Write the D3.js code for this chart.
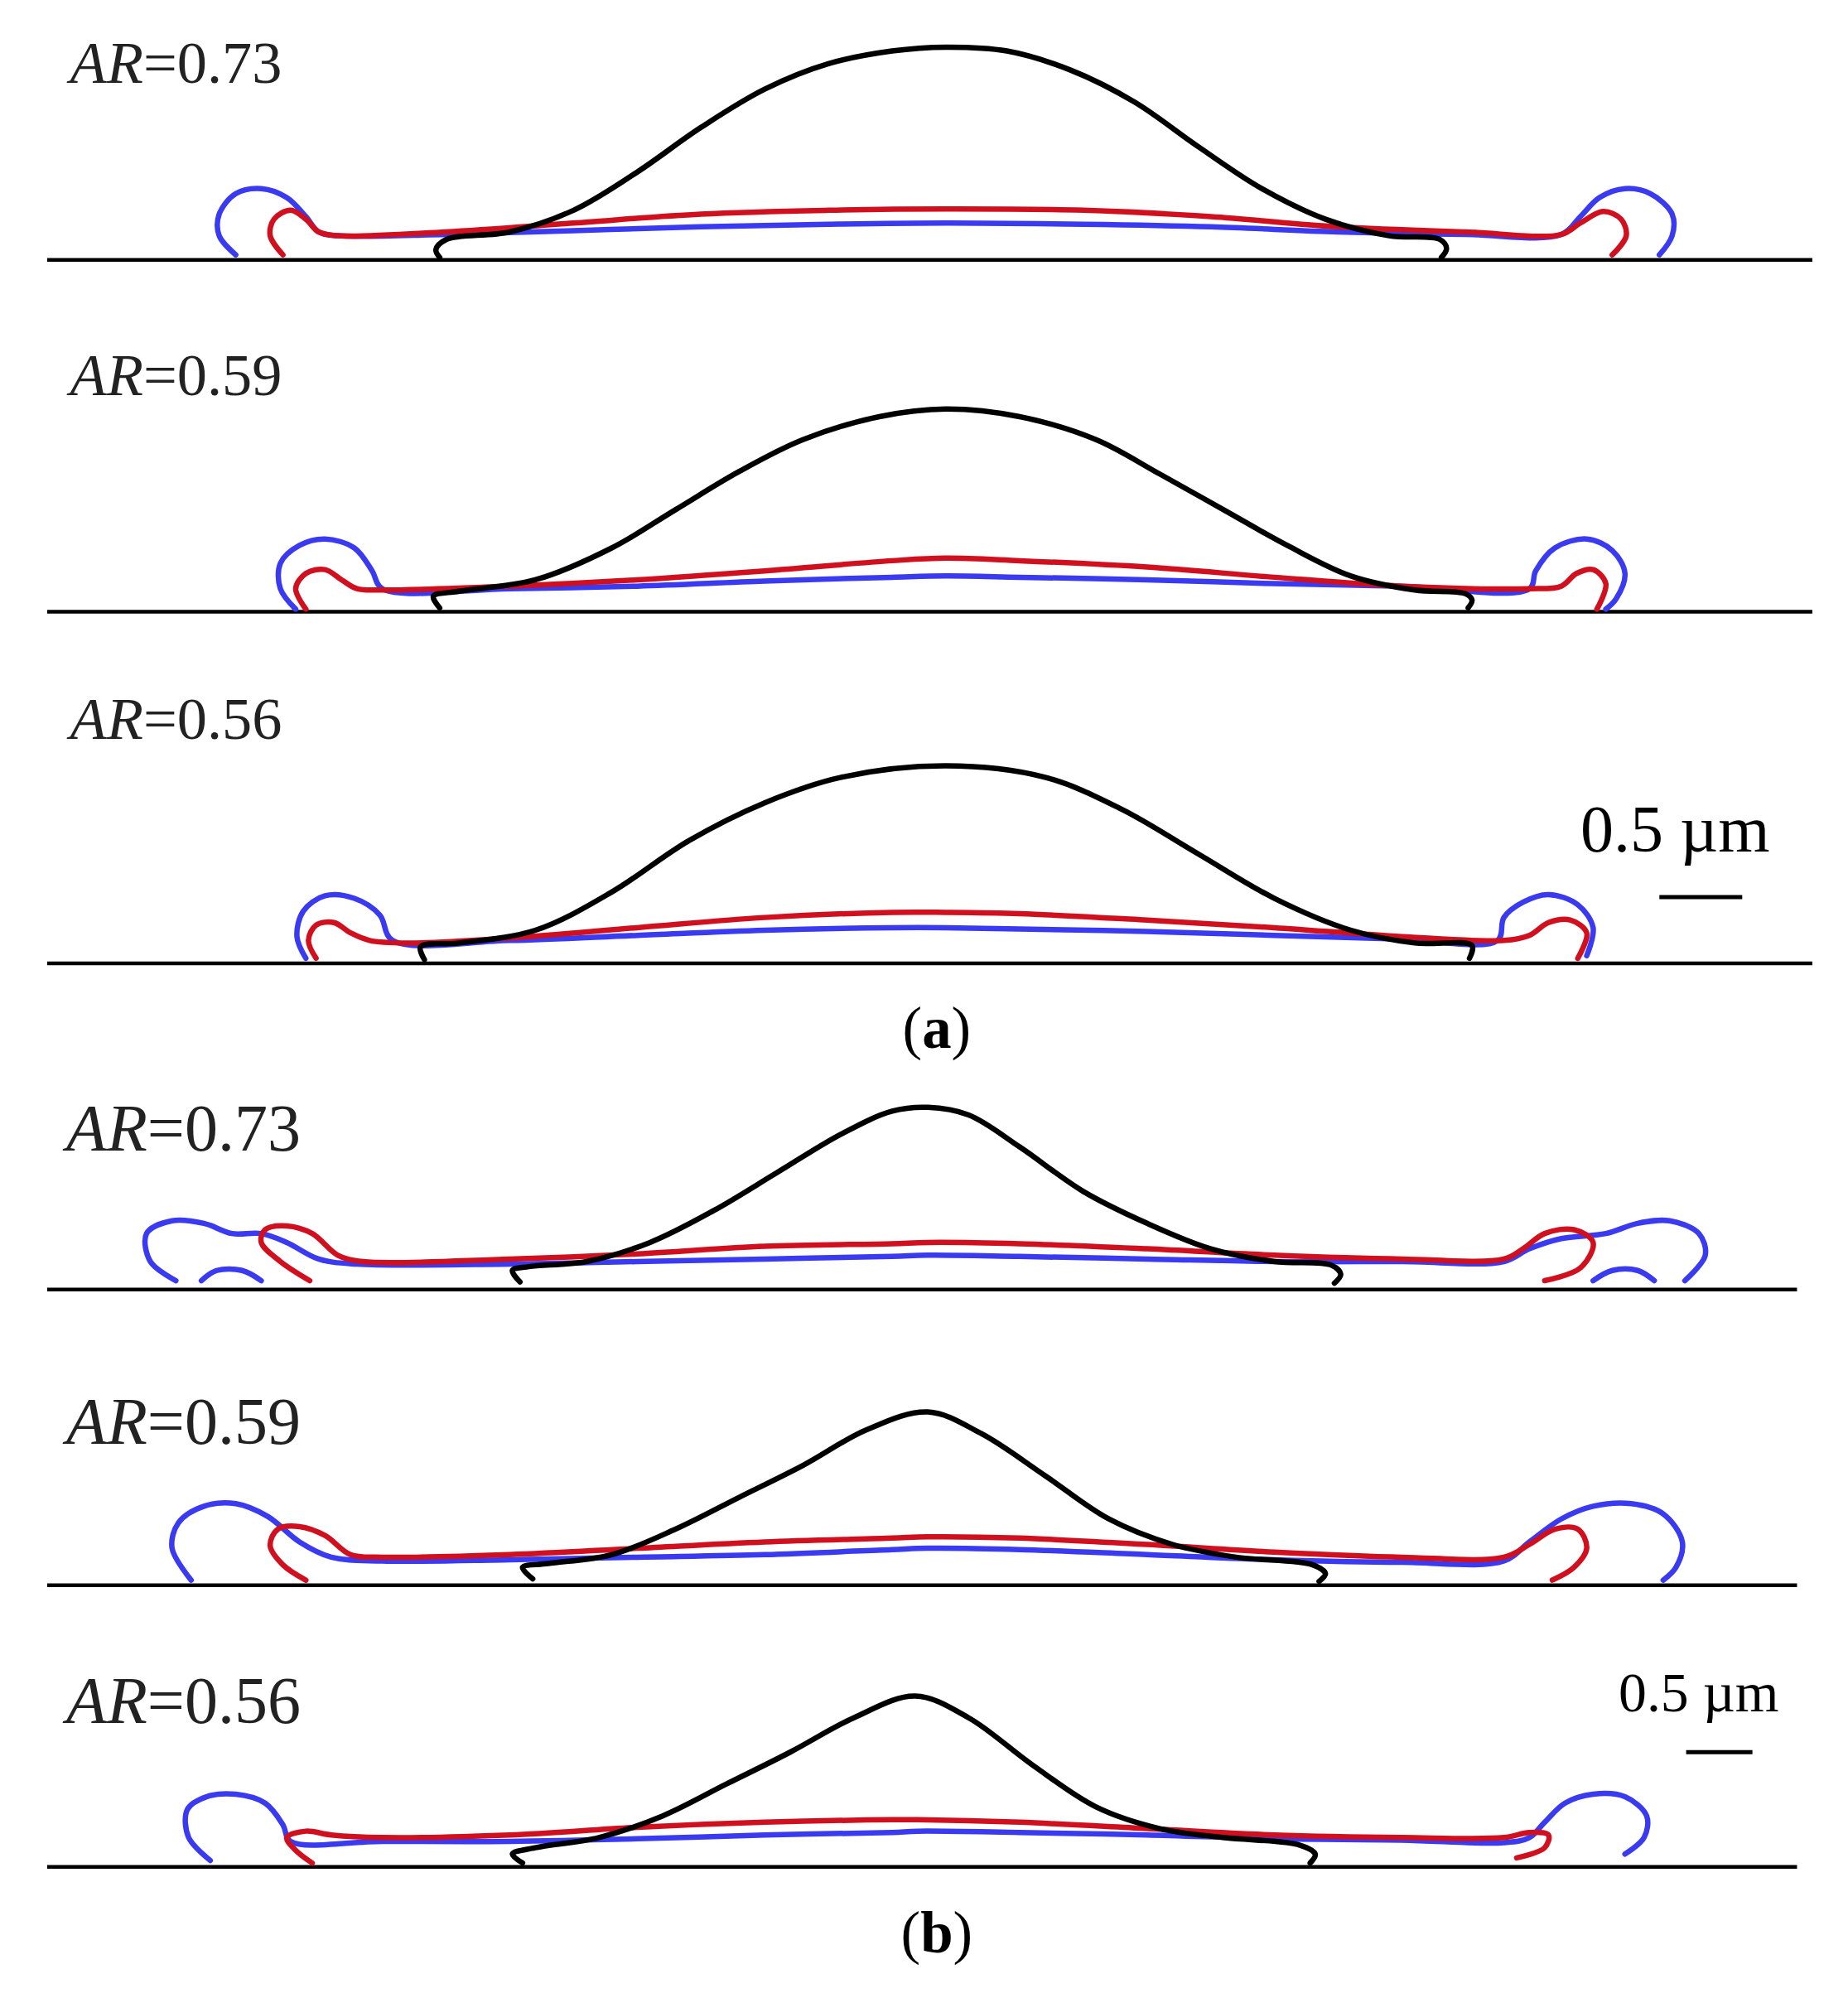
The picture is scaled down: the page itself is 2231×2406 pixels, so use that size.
<!DOCTYPE html>
<html><head><meta charset="utf-8">
<script src="https://cdn.jsdelivr.net/npm/d3@7/dist/d3.min.js"></script>
<style>body{margin:0;background:#fff}</style></head>
<body><svg id="c"></svg>
<script>
// Figure units: 1450 x 1564 (scaled to 2231 x 2406)
const panelLabels = ["AR=0.73","AR=0.59","AR=0.56","AR=0.73","AR=0.59","AR=0.56"];
const baselines = [204,480,756,1012,1244,1465];
const baseSpan = [[37,1422],[37,1422],[37,1422],[37,1410],[37,1410],[37,1410]];

const black = [
 [[345,202],[342,196],[350,188],[400,182],[450,165],[500,135],[550,100],[600,70],[650,50],[700,40],[742,37],[790,40],[840,55],[890,80],[940,115],[990,148],[1040,172],[1090,185],[1130,188],[1135,195],[1131,202]],
 [[345,477],[340,468],[360,464],[420,455],[480,430],[530,400],[580,370],[630,345],[690,327],[742,321],[800,327],[860,345],[910,372],[960,400],[1010,428],[1060,452],[1110,463],[1150,466],[1155,471],[1152,477]],
 [[333,753],[330,743],[360,740],[420,730],[480,700],[540,660],[600,630],[660,610],[742,601],[820,610],[880,635],[940,670],[1000,705],[1060,730],[1110,740],[1155,742],[1153,752]],
 [[408,1006],[402,997],[415,994],[460,990],[510,975],[560,950],[610,920],[660,890],[700,872],[728,869],[760,875],[800,900],[850,935],[900,960],[950,980],[1000,990],[1045,993],[1052,1000],[1047,1007]],
 [[418,1239],[410,1230],[430,1227],[480,1220],[530,1200],[580,1175],[630,1150],[680,1122],[728,1108],[770,1125],[820,1158],[870,1192],[920,1212],[970,1222],[1030,1228],[1040,1235],[1035,1241]],
 [[410,1462],[402,1455],[420,1450],[470,1442],[520,1425],[570,1400],[620,1375],[670,1348],[718,1331],[760,1348],[810,1385],[860,1418],[910,1435],[960,1442],[1020,1448],[1032,1455],[1028,1462]]
];
const red = [
 [[222,200],[212,185],[215,172],[228,165],[240,172],[250,182],[265,185],[350,182],[450,175],[550,168],[650,165],[742,164],[850,165],[950,170],[1050,178],[1150,182],[1225,184],[1240,175],[1258,166],[1272,172],[1276,185],[1265,200]],
 [[240,478],[232,462],[240,450],[255,447],[268,455],[280,462],[300,463],[400,460],[500,455],[600,448],[700,440],[742,438],[800,440],[900,445],[1000,453],[1100,460],[1200,462],[1225,460],[1237,450],[1250,447],[1260,458],[1253,478]],
 [[248,752],[242,738],[248,726],[262,724],[275,732],[290,738],[320,740],[400,736],[500,728],[600,720],[700,716],[742,716],[800,717],[900,722],[1000,728],[1100,735],[1180,738],[1200,734],[1215,724],[1232,722],[1245,732],[1238,752]],
 [[243,1005],[220,990],[205,975],[208,965],[225,962],[245,968],[265,985],[285,990],[400,988],[500,984],[600,978],[700,976],[728,975],[800,976],[900,980],[1000,985],[1100,988],[1180,988],[1195,980],[1212,968],[1235,965],[1250,975],[1240,995],[1212,1005]],
 [[240,1240],[222,1228],[212,1213],[218,1200],[235,1198],[255,1205],[275,1220],[300,1222],[400,1220],[500,1215],[600,1210],[700,1207],[728,1206],[800,1207],[900,1212],[1000,1218],[1100,1222],[1180,1222],[1200,1212],[1220,1200],[1238,1200],[1245,1215],[1235,1230],[1218,1240]],
 [[245,1462],[232,1452],[225,1442],[240,1437],[260,1440],[300,1442],[400,1440],[500,1434],[600,1430],[700,1428],[720,1428],[800,1430],[900,1435],[1000,1440],[1100,1442],[1180,1442],[1200,1438],[1215,1440],[1212,1450],[1190,1458]]
];
const blue = [
 [[185,200],[172,185],[172,168],[185,152],[205,148],[225,155],[240,170],[250,182],[265,185],[350,184],[450,181],[550,178],[650,176],[742,175],[850,176],[950,178],[1050,182],[1150,184],[1225,184],[1240,170],[1255,155],[1275,148],[1295,152],[1312,168],[1312,185],[1302,200]],
 [[232,478],[220,462],[220,442],[235,428],[255,423],[278,430],[292,448],[300,462],[400,462],[500,460],[600,456],[700,453],[742,452],[800,453],[900,455],[1000,458],[1100,460],[1200,462],[1205,448],[1220,430],[1245,423],[1265,432],[1275,450],[1268,470],[1260,478]],
 [[240,752],[233,735],[238,715],[255,703],[278,705],[298,718],[308,738],[400,738],[500,734],[600,730],[700,728],[742,728],[800,729],[900,731],[1000,734],[1100,737],[1175,738],[1180,720],[1195,708],[1215,702],[1238,710],[1250,728],[1245,750]],
 [[138,1005],[118,990],[115,968],[135,958],[160,960],[182,968],[205,968],[225,975],[250,988],[280,992],[400,992],[500,990],[600,988],[700,986],[728,985],[800,986],[900,988],[1000,990],[1100,990],[1180,990],[1200,980],[1225,972],[1260,968],[1285,960],[1310,958],[1333,968],[1338,985],[1322,1005]],
 [[150,1240],[135,1215],[140,1195],[160,1182],[185,1180],[210,1190],[235,1210],[260,1222],[300,1225],[400,1224],[500,1222],[600,1220],[700,1216],[728,1215],[800,1216],[900,1220],[1000,1224],[1100,1226],[1180,1225],[1200,1210],[1225,1192],[1250,1182],[1280,1180],[1305,1188],[1320,1210],[1315,1230],[1305,1240]],
 [[165,1460],[148,1442],[147,1420],[162,1410],[185,1408],[208,1415],[222,1432],[228,1445],[300,1445],[400,1445],[500,1443],[600,1440],[700,1438],[720,1437],[800,1438],[900,1440],[1000,1443],[1100,1444],[1180,1446],[1200,1442],[1212,1430],[1228,1415],[1250,1408],[1275,1410],[1292,1425],[1290,1442],[1275,1455]]
];
const blueExtra = [
 [[158,1005],[170,997],[190,997],[205,1005]],
 [[1250,1005],[1265,997],[1285,997],[1298,1005]]
];

const W=2231,H=2406;
const x=d3.scaleLinear().domain([0,1450]).range([0,W]);
const y=d3.scaleLinear().domain([0,1564]).range([0,H]);
const svg=d3.select("#c").attr("width",W).attr("height",H);
const line=d3.line().x(d=>x(d[0])).y(d=>y(d[1])).curve(d3.curveCatmullRom.alpha(0.5));

baselines.forEach((b,i)=>{
  svg.append("line").attr("x1",x(baseSpan[i][0])).attr("x2",x(baseSpan[i][1]))
    .attr("y1",y(b)).attr("y2",y(b)).attr("stroke","#000").attr("stroke-width",4.5);
});
const draw=(arr,col)=>arr.forEach(p=>svg.append("path").attr("d",line(p)).attr("fill","none")
  .attr("stroke",col).attr("stroke-width",6.5).attr("stroke-linejoin","round").attr("stroke-linecap","round"));
draw(blue,"#3a3af0"); draw(blueExtra,"#3a3af0"); draw(red,"#d0101e"); draw(black,"#000");

const labelPos=[[55,65,47],[55,310,47],[55,580,47],[52,903,52],[52,1133,52],[52,1352,52]];
panelLabels.forEach((t,i)=>{
  const [lx,ly,fs]=labelPos[i];
  const tx=svg.append("text").attr("x",x(lx)).attr("y",y(ly)).attr("font-family","Liberation Serif")
    .attr("font-size",fs*1.54).attr("fill","#222");
  const parts=t.split("=");
  tx.append("tspan").attr("font-style","italic").text(parts[0]);
  tx.append("tspan").text("="+parts[1]);
});
// scale bars
const scaleBars=[{tx:1240,ty:668,fs:52,x1:1302,x2:1367,by:704},{tx:1270,ty:1343,fs:44,x1:1323,x2:1375,by:1375}];
scaleBars.forEach(s=>{
  svg.append("text").attr("x",x(s.tx)).attr("y",y(s.ty)).attr("font-family","Liberation Serif")
    .attr("font-size",s.fs*1.54).text("0.5 µm");
  svg.append("line").attr("x1",x(s.x1)).attr("x2",x(s.x2)).attr("y1",y(s.by)).attr("y2",y(s.by))
    .attr("stroke","#000").attr("stroke-width",5);
});
[["a",822],["b",1532]].forEach(([l,yy])=>{
  const t=svg.append("text").attr("x",x(735)).attr("y",y(yy)).attr("text-anchor","middle")
    .attr("font-family","Liberation Serif").attr("font-size",46*1.54);
  t.append("tspan").text("(");t.append("tspan").attr("font-weight","bold").text(l);t.append("tspan").text(")");
});
</script></body></html>
